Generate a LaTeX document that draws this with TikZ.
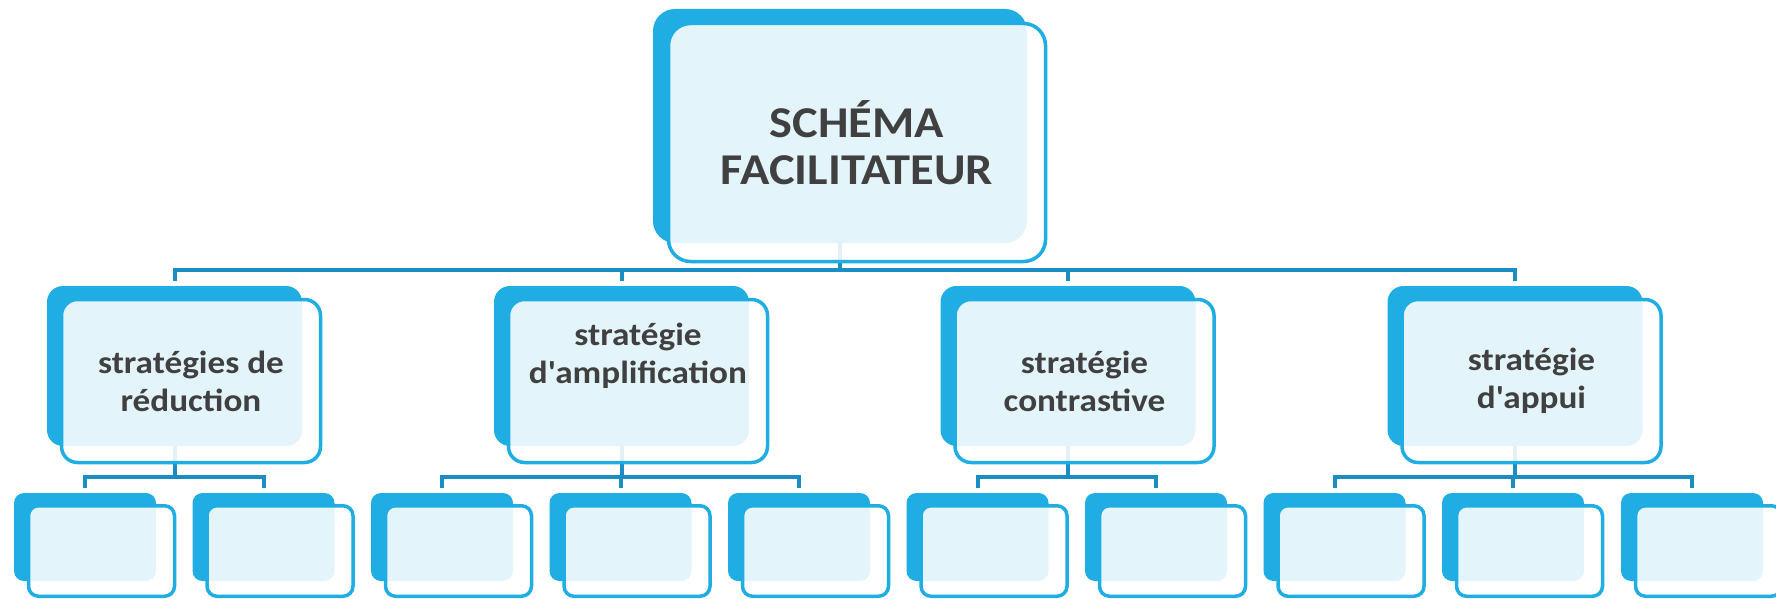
\documentclass[tikz,border=0pt]{standalone}
\usepackage{fontspec}
\setmainfont{Carlito}
\newfontfamily\boxfont{Carlito}[FakeStretch=1.1]
\usetikzlibrary{backgrounds}
\definecolor{boxblue}{RGB}{31,173,227}
\definecolor{linkblue}{RGB}{27,141,194}
\definecolor{txtgray}{RGB}{64,64,64}
\begin{document}
\begin{tikzpicture}[x=1pt,y=-1pt,
  backbox/.style={rectangle, inner sep=0pt, outer sep=0pt, fill=boxblue},
  frontbox/.style={rectangle, inner sep=0pt, outer sep=0pt, draw=boxblue,
    line width=3.5pt, fill=white, fill opacity=0.88},
  link/.style={draw=linkblue, line width=4pt},
  lbl/.style={text=txtgray, align=center, inner sep=0pt,
    font=\boxfont\bfseries\fontsize{32}{38}\selectfont},
  toplbl/.style={lbl, font=\boxfont\bfseries\fontsize{44}{47}\selectfont},
  midback/.style={backbox, minimum width=255pt, minimum height=160pt, rounded corners=16pt},
  midfront/.style={frontbox, minimum width=259pt, minimum height=163pt, rounded corners=16pt},
  lowback/.style={backbox, minimum width=142pt, minimum height=88pt, rounded corners=10pt},
  lowfront/.style={frontbox, minimum width=146pt, minimum height=90.5pt, rounded corners=10pt}]
\useasboundingbox (0,0) rectangle (1776,599);

% root box
\node[backbox, minimum width=374pt, minimum height=234pt, rounded corners=22pt] (root) at (840,126) {};
\node[frontbox, minimum width=377pt, minimum height=238pt, rounded corners=22pt] (rootf) at (857,142.5) {};
\node[toplbl] (roottxt) at (rootf.center) {SCHÉMA\\FACILITATEUR};

% second level
\foreach \x/\n in {174.5/a,621.5/b,1068/c,1515/d}{
  \node[midback] (\n) at (\x,366) {};
  \node[midfront] (\n f) at (\x+16.5,381) {};
}
\node[lbl] (ta) at (af.center) {stratégies de\\réduction};
\node[lbl] (tb) at ([yshift=25.5pt]bf.center) {stratégie\\d\textquotesingle amplification};
\node[lbl] (tc) at (cf.center) {stratégie\\contrastive};
\node[lbl] (td) at (df.center) {stratégie\\d\textquotesingle appui};

% third level
\foreach \x/\n in {85/a1,263.5/a2,442/b1,620.5/b2,799/b3,977.5/c1,1156/c2,1334.5/d1,1513/d2,1692/d3}{
  \node[lowback] (\n) at (\x,537) {};
  \node[lowfront] (\n f) at (\x+16.5,551) {};
}

% connectors behind the boxes
\coordinate (bus0) at (0,270);
\coordinate (bus1) at (0,477);
\begin{pgfonlayer}{background}
  \foreach \c in {a,b,c,d}
    \draw[link, shorten >=5pt] (root.center) -- (root.center |- bus0) -| (\c.north);
  \foreach \p/\c in {a/a1,a/a2,b/b1,b/b2,b/b3,c/c1,c/c2,d/d1,d/d2,d/d3}
    \draw[link, shorten >=5pt] (\p.center) -- (\p.center |- bus1) -| (\c.north);
\end{pgfonlayer}
\end{tikzpicture}
\end{document}
